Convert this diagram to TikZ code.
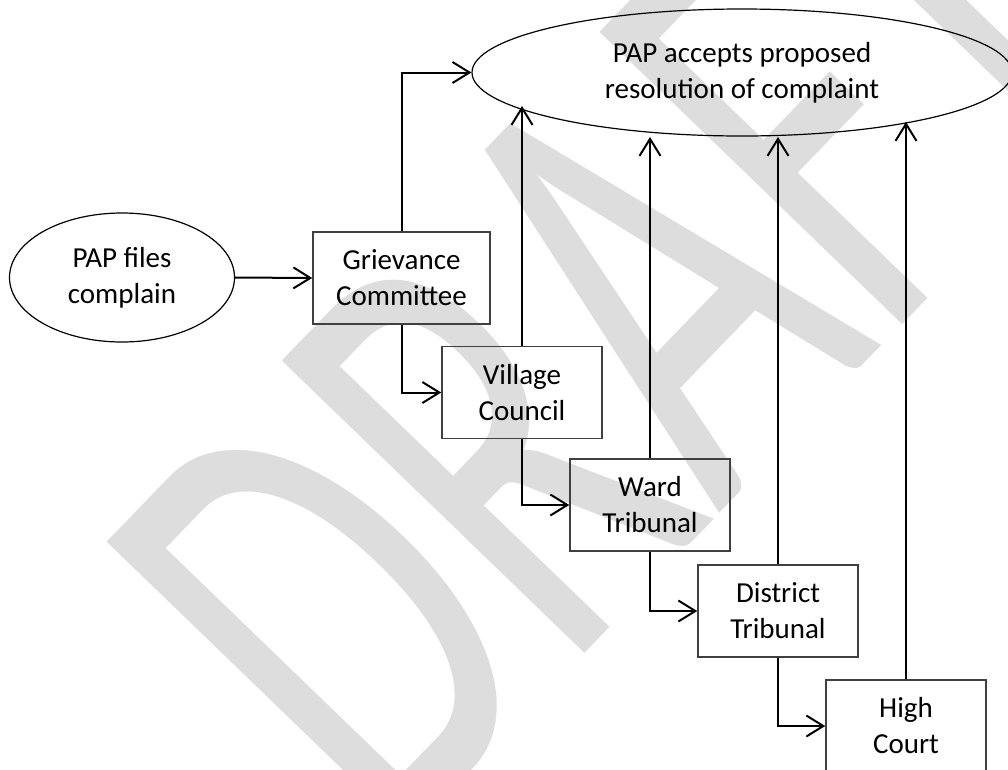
\documentclass[tikz,border=0pt]{standalone}
\usepackage{fontspec}
\setmainfont{Carlito}
\usetikzlibrary{arrows.meta,shapes.geometric}
\definecolor{wm}{RGB}{221,221,221}
\begin{document}
\begin{tikzpicture}[x=1pt,y=-1pt,
  txt/.style={font=\fontsize{29}{36}\selectfont, align=center},
  box/.style={txt, draw=black!75, line width=1.5pt, rectangle, minimum width=160pt, minimum height=92pt, inner sep=0pt},
  oval/.style={txt, draw=black, line width=1.2pt, ellipse, inner sep=0pt},
  conn/.style={line width=2pt, -{Straight Barb[length=17pt,width=21pt]}},
  watermark/.style={font=\fontsize{656}{656}\selectfont, text=wm, rotate=46, xscale=0.623, anchor=base west, inner sep=0pt}]
\useasboundingbox (0,0) rectangle (1008,769);
% watermark
\node[watermark] (wmark) at (390,855) {DRAFT};
% nodes
\node[oval, minimum width=225pt, minimum height=129pt] (start) at (122,277.5) {PAP files\\complain};
\node[oval, minimum width=540pt, minimum height=127pt] (accept) at (742,72.5) {PAP accepts proposed\\resolution of complaint};
\node[box, minimum width=177pt] (gc) at (401.5,278) {Grievance\\Committee};
\node[box] (vc) at (522,392.5) {Village\\Council};
\node[box] (wt) at (650,505) {Ward\\Tribunal};
\node[box] (dt) at (778,611) {District\\Tribunal};
\node[box] (hc) at (906,726) {High\\Court};
% arrow ends on the big ellipse
\coordinate (t1) at (vc.north |- 0,106);
\coordinate (t2) at (wt.north |- 0,137);
\coordinate (t3) at (dt.north |- 0,137);
\coordinate (t4) at (hc.north |- 0,122);
% connectors
\draw[conn] (start.east) -- (gc.west);
\draw[conn] (gc.north) |- (accept.west);
\draw[conn] (gc.south) |- (vc.west);
\draw[conn] (vc.south) |- (wt.west);
\draw[conn] (wt.south) |- (dt.west);
\draw[conn] (dt.south) |- (hc.west);
\draw[conn] (vc.north) -- (t1);
\draw[conn] (wt.north) -- (t2);
\draw[conn] (dt.north) -- (t3);
\draw[conn] (hc.north) -- (t4);
\end{tikzpicture}
\end{document}
